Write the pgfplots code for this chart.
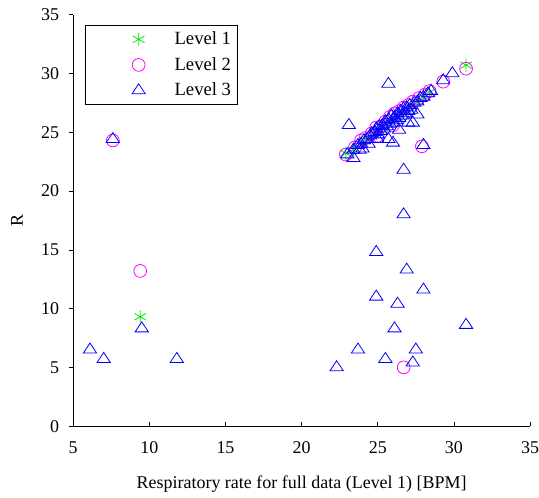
\documentclass[border=0pt]{standalone}
\usepackage{fontspec}
\setmainfont{Liberation Serif}
\usepackage{pgfplots}
\pgfplotsset{compat=1.18}
\definecolor{lvone}{RGB}{0,235,0}
\definecolor{lvtwo}{RGB}{255,0,255}
\definecolor{lvthree}{RGB}{0,0,255}

% wider legend cells: marker well away from the box edge and the text
\pgfplotsset{
  wideleg/.style={legend image code/.code={%
      \path[draw=none, fill=none] (0pt,-4pt) rectangle (62pt,4pt);
      \draw[mark repeat=2,mark phase=2,##1]
      plot coordinates {(0pt,0pt) (37pt,0pt) (62pt,0pt)};}},
}

\begin{document}
\begin{tikzpicture}
\begin{axis}[
    scale only axis,
    width=343pt, height=309pt,
    xmin=5, xmax=35, ymin=0, ymax=35,
    xtick={5,10,...,35}, ytick={0,5,...,35},
    axis x line*=bottom, axis y line*=left,
    tick align=outside,
    major tick length=3pt,
    x tick style={yshift=3pt},
    tick style={black, thin},
    axis line style={black, thin},
    /pgf/number format/assume math mode=true,
    tick label style={font=\fontsize{13.5}{16}\selectfont},
    xticklabel style={yshift=-5pt, inner xsep=0pt},
    yticklabel style={xshift=-4pt},
    label style={font=\fontsize{13.5}{16}\selectfont},
    xlabel={Respiratory rate for full data (Level 1) [BPM]},
    ylabel={R},
    ylabel style={rotate=0, yshift=7pt},
    xlabel style={yshift=-10pt},
    legend cell align=left,
    legend style={at={(0.026,0.975)}, anchor=north west, draw=black, thin,
        font=\fontsize{14}{16}\selectfont, row sep=4pt, inner sep=3pt},
]
\addplot[only marks, wideleg, mark=asterisk, mark size=5pt, color=lvone, line width=0.6pt] coordinates {
(9.4,9.3) (30.8,30.7) (22.9,23.2) (23.4,23.5) (23.9,24.0) (24.3,24.4)
(24.7,24.8) (25.0,25.1) (25.3,25.4) (25.6,25.7) (26.0,26.0) (26.3,26.3)
(26.6,26.6) (27.0,27.0) (27.3,27.3) (27.6,27.6) (28.0,28.0) (28.4,28.4)
};
\addlegendentry{Level 1}
\addplot[only marks, wideleg, mark=o, mark size=4.8pt, color=lvtwo, line width=0.6pt] coordinates {
(7.6,24.3) (9.4,13.2) (26.7,5.0) (27.9,23.8) (29.3,29.3) (30.8,30.4)
(22.9,23.1) (23.5,23.7) (23.9,24.3) (24.2,24.5) (24.6,24.9) (24.9,25.4)
(25.2,25.5) (25.5,25.9) (25.8,26.3) (26.1,26.6) (26.4,26.8) (26.7,27.1)
(27.0,27.3) (27.3,27.6) (27.7,27.9) (28.1,28.2) (28.4,28.5) (26.0,25.6)
(25.0,24.7)
};
\addlegendentry{Level 2}
\addplot[only marks, wideleg, mark=triangle, mark size=5pt, color=lvthree, line width=0.6pt,
    mark options={xscale=1.15}] coordinates {
(6.1,6.5) (7.0,5.7) (7.6,24.4) (9.5,8.3) (11.8,5.7) (22.3,5.0)
(23.7,6.5) (25.5,5.7) (26.1,8.3) (26.3,10.4) (24.9,11.0) (26.9,13.3)
(24.9,14.8) (26.7,18.0) (26.7,21.8) (28.0,11.6) (27.5,6.5) (27.3,5.4)
(30.8,8.6) (23.1,25.6) (25.7,29.1) (23.4,22.8) (28.0,23.9) (29.3,29.4)
(29.9,30.0) (25.7,24.4) (26.0,24.1) (27.0,25.8) (27.3,25.8) (27.6,26.5)
(23.8,23.5) (26.4,25.2)
(23.0,23.1) (23.4,23.5) (23.7,23.9) (23.9,24.0) (24.1,24.3) (24.3,24.4)
(24.5,24.7) (24.6,24.9) (24.8,25.0) (24.9,25.3) (25.0,24.8) (25.1,25.5)
(25.2,25.1) (25.3,25.6) (25.4,25.3) (25.5,25.9) (25.6,25.5) (25.7,26.1)
(25.8,25.7) (25.9,26.4) (26.0,25.8) (26.1,26.3) (26.2,26.0) (26.3,26.6)
(26.4,26.2) (26.5,26.8) (26.6,26.4) (26.7,27.0) (26.8,26.6) (26.9,27.1)
(27.0,26.8) (27.1,27.3) (27.2,26.9) (27.4,27.5) (27.6,27.6) (27.8,27.9)
(28.0,28.0) (28.3,28.3) (28.5,28.5) (24.4,24.0) (25.0,24.4) (24.0,23.6)
};
\addlegendentry{Level 3}
\end{axis}
% blank margins as in the reference
\path (current axis.north west) ++(0pt,11pt);
\path (current axis.south west) ++(-55pt,0pt);
\end{tikzpicture}
\end{document}
